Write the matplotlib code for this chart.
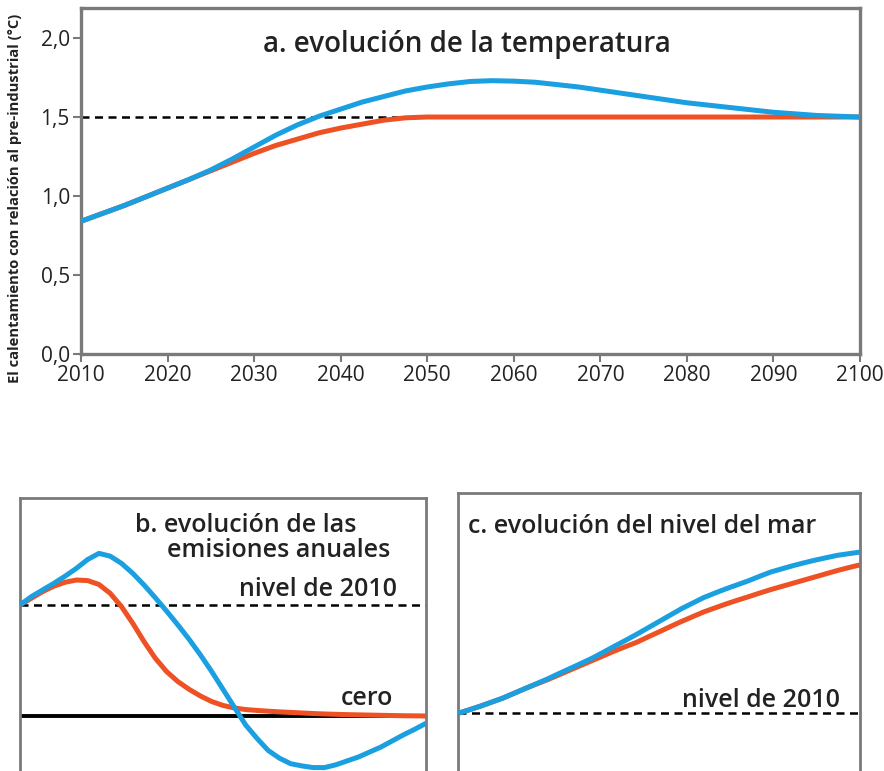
import matplotlib
matplotlib.use('Agg')

import matplotlib.pyplot as plt

# shared time axis, read every 2.5 years
years = [2010, 2012.5, 2015, 2017.5, 2020, 2022.5, 2025, 2027.5, 2030, 2032.5,
         2035, 2037.5, 2040, 2042.5, 2045, 2047.5, 2050, 2052.5, 2055, 2057.5,
         2060, 2062.5, 2065, 2067.5, 2070, 2072.5, 2075, 2077.5, 2080, 2082.5,
         2085, 2087.5, 2090, 2092.5, 2095, 2097.5, 2100]

# a. temperature (°C above pre-industrial)
temp_red = [0.84, 0.89, 0.94, 0.995, 1.05, 1.105, 1.16, 1.215, 1.27, 1.32,
            1.36, 1.40, 1.43, 1.455, 1.48, 1.495, 1.50, 1.50, 1.50, 1.50,
            1.50, 1.50, 1.50, 1.50, 1.50, 1.50, 1.50, 1.50, 1.50, 1.50,
            1.50, 1.50, 1.50, 1.50, 1.50, 1.50, 1.50]
temp_blue = [0.84, 0.89, 0.94, 0.995, 1.05, 1.105, 1.165, 1.235, 1.31, 1.385,
             1.45, 1.505, 1.55, 1.595, 1.63, 1.665, 1.69, 1.71, 1.725, 1.73,
             1.727, 1.72, 1.705, 1.69, 1.67, 1.65, 1.63, 1.61, 1.59, 1.575,
             1.56, 1.545, 1.53, 1.52, 1.51, 1.505, 1.50]
temp_ticks = [0.0, 0.5, 1.0, 1.5, 2.0]
temp_labels = ['0,0', '0,5', '1,0', '1,5', '2,0']
year_ticks = [2010, 2020, 2030, 2040, 2050, 2060, 2070, 2080, 2090, 2100]

# b. annual emissions (2010 level = 1, zero = 0)
emis_red = [1.00, 1.06, 1.12, 1.17, 1.205, 1.225, 1.22, 1.185, 1.105, 0.985,
            0.835, 0.67, 0.52, 0.40, 0.31, 0.24, 0.18, 0.13, 0.095, 0.072,
            0.058, 0.05, 0.043, 0.037, 0.032, 0.027, 0.022, 0.018, 0.015, 0.012,
            0.01, 0.008, 0.006, 0.004, 0.002, 0.001, 0.0]
emis_blue = [1.00, 1.075, 1.135, 1.195, 1.26, 1.33, 1.41, 1.465, 1.44, 1.375,
             1.285, 1.18, 1.065, 0.945, 0.82, 0.69, 0.55, 0.40, 0.24, 0.08,
             -0.08, -0.20, -0.31, -0.38, -0.43, -0.45, -0.465, -0.465, -0.44, -0.405,
             -0.37, -0.325, -0.28, -0.225, -0.17, -0.12, -0.066]

# c. sea level (relative, 2010 level = 0)
sea_red = [0.0, 0.022, 0.045, 0.07, 0.095, 0.125, 0.155, 0.183, 0.21, 0.24,
           0.27, 0.30, 0.33, 0.36, 0.39, 0.418, 0.445, 0.478, 0.51, 0.543,
           0.575, 0.605, 0.635, 0.66, 0.685, 0.708, 0.73, 0.753, 0.775, 0.795,
           0.815, 0.835, 0.855, 0.875, 0.895, 0.913, 0.93]
sea_blue = [0.0, 0.022, 0.045, 0.07, 0.095, 0.125, 0.155, 0.185, 0.215, 0.248,
            0.28, 0.312, 0.345, 0.382, 0.42, 0.457, 0.495, 0.535, 0.575, 0.615,
            0.655, 0.69, 0.725, 0.753, 0.78, 0.805, 0.83, 0.858, 0.885, 0.905,
            0.925, 0.943, 0.96, 0.975, 0.99, 1.0, 1.01]

RED = '#ee5124'
BLUE = '#1a9fe0'
FRAME = '#7a7a7a'
TXT = '#222222'

plt.rcParams['font.family'] = ['Open Sans', 'DejaVu Sans']

W, H = 884, 771
fig = plt.figure(figsize=(W / 100, H / 100), dpi=100)


def rect(l, t, r, b):
    return [l / W, 1 - b / H, (r - l) / W, (b - t) / H]


def frame(ax, lw):
    for s in ax.spines.values():
        s.set_color(FRAME)
        s.set_linewidth(lw)


dash = dict(color='black', linestyle=(0, (3.2, 2.2)), linewidth=1.8)
line_kw = dict(linewidth=3.6, solid_capstyle='butt', solid_joinstyle='round')
lbl = dict(fontsize=18, fontweight='semibold', color=TXT, va='baseline')

# ---- panel a
ax = fig.add_axes(rect(81, 8, 860, 354))
frame(ax, 2.4)
ax.axhline(1.5, zorder=1, **dash)
ax.plot(years, temp_red, color=RED, zorder=2, **line_kw)
ax.plot(years, temp_blue, color=BLUE, zorder=3, **line_kw)
ax.set_xlim(2010, 2100)
ax.set_ylim(0, 2.19)
ax.set_xticks(year_ticks)
ax.set_yticks(temp_ticks)
ax.set_yticklabels(temp_labels)
ax.tick_params(axis='both', direction='out', length=6, width=1.5, color=FRAME,
               labelsize=15, labelcolor=TXT, pad=2)
ax.text(2054.6, 1.91, 'a. evolución de la temperatura', ha='center', va='baseline',
        fontsize=20, fontweight='semibold', color=TXT)
fig.text(15 / W, 1 - 198 / H, 'El calentamiento con relación al pre-industrial (°C)',
         rotation=90, ha='center', va='center', fontsize=10.6, fontweight='bold', color=TXT)

# ---- panel b
bx = fig.add_axes(rect(20, 498, 426, 790))
frame(bx, 2.0)
bx.axhline(1.0, zorder=1, **dash)
bx.axhline(0.0, color='black', linewidth=2.8, zorder=1)
bx.plot(years, emis_red, color=RED, zorder=2, **line_kw)
bx.plot(years, emis_blue, color=BLUE, zorder=3, **line_kw)
bx.set_xlim(2010, 2100)
bx.set_ylim(-0.667, 1.964)
bx.set_xticks([])
bx.set_yticks([])
bx.text(2035.5, 1.66, 'b. evolución de las', ha='left', **lbl)
bx.text(2042.6, 1.435, 'emisiones anuales', ha='left', **lbl)
bx.text(2093.6, 1.08, 'nivel de 2010', ha='right', **lbl)
bx.text(2092.7, 0.10, 'cero', ha='right', **lbl)

# ---- panel c
cx = fig.add_axes(rect(458, 493, 860, 790))
frame(cx, 2.0)
cx.axhline(0.0, zorder=1, **dash)
cx.plot(years, sea_red, color=RED, zorder=2, **line_kw)
cx.plot(years, sea_blue, color=BLUE, zorder=3, **line_kw)
cx.set_xlim(2010, 2100)
cx.set_ylim(-0.48, 1.38)
cx.set_xticks([])
cx.set_yticks([])
cx.text(2012.2, 1.127, 'c. evolución del nivel del mar', ha='left', **lbl)
cx.text(2095.6, 0.04, 'nivel de 2010', ha='right', **lbl)

fig.savefig('out.png', dpi=100)
